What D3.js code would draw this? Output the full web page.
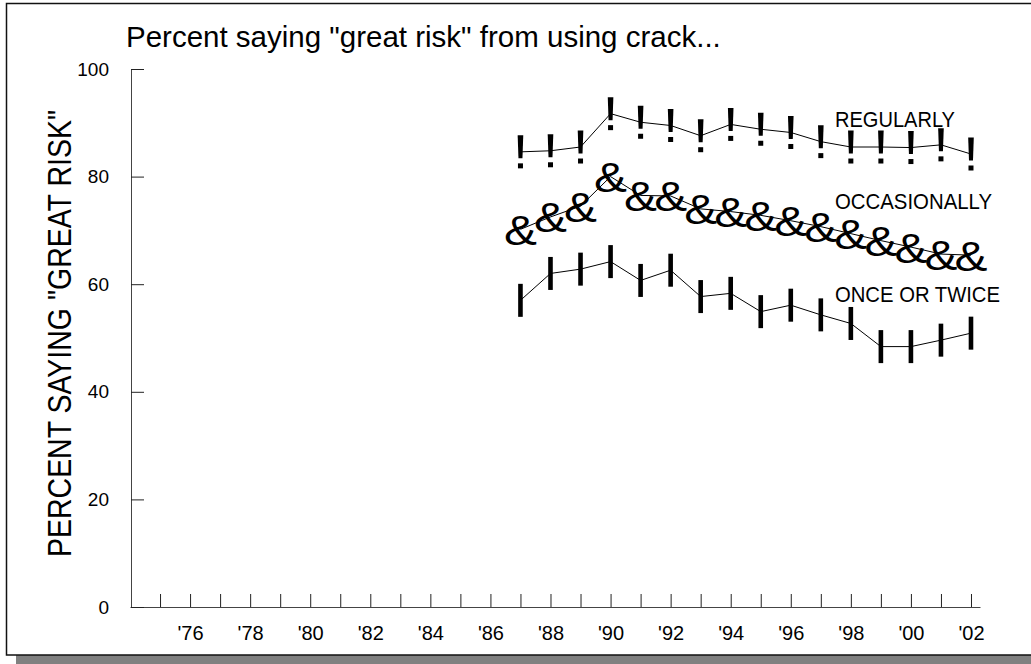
<!DOCTYPE html>
<html>
<head>
<meta charset="utf-8">
<script src="https://cdn.jsdelivr.net/npm/d3@7"></script>
<style>
  body { margin: 0; background: #fff; }
  svg { display: block; font-family: "Liberation Sans", Arial, sans-serif; }
</style>
</head>
<body>
<svg id="chart" width="1031" height="664"></svg>
<script>
// survey years
const years = [1987, 1988, 1989, 1990, 1991, 1992, 1993, 1994, 1995, 1996, 1997, 1998, 1999, 2000, 2001, 2002];

// percent saying "great risk"
const regularly = [84.6, 84.8, 85.5, 91.7, 90.1, 89.5, 87.6, 89.7, 88.8, 88.2, 86.5, 85.5, 85.5, 85.4, 85.9, 84.2];
const occasionally = [70.2, 72.5, 74.5, 80.0, 76.5, 76.4, 74.0, 73.5, 72.8, 71.8, 70.7, 69.4, 68.1, 66.9, 65.6, 65.4];
const onceOrTwice = [57.0, 62.0, 62.8, 64.2, 60.7, 62.6, 57.7, 58.3, 54.9, 56.1, 54.3, 52.7, 48.4, 48.4, 49.6, 50.9];

const seriesNames = ["REGULARLY", "OCCASIONALLY", "ONCE OR TWICE"];
const yTicks = [0, 20, 40, 60, 80, 100];
const xTickYears = d3.range(1975, 2003);

const series = [
  { name: seriesNames[0], values: regularly, marker: "bang" },
  { name: seriesNames[1], values: occasionally, marker: "amp" },
  { name: seriesNames[2], values: onceOrTwice, marker: "bar" }
];

const svg = d3.select("#chart");

// frame + drop shadow
svg.append("rect")
  .attr("x", 16).attr("y", 655).attr("width", 1020).attr("height", 10)
  .attr("fill", "#808080");
svg.append("rect")
  .attr("x", 6.5).attr("y", 3.5).attr("width", 1040).attr("height", 651.5)
  .attr("fill", "#fff").attr("stroke", "#111").attr("stroke-width", 1.5);

const x = d3.scaleLinear().domain([1974, 2002.3]).range([130, 980]);
const y = d3.scaleLinear().domain([0, 100]).range([607, 69]);

// x axis, ticks pointing up, labels only on even years
const gx = svg.append("g")
  .attr("transform", `translate(0,${y(0)})`)
  .call(d3.axisBottom(x)
    .tickValues(xTickYears)
    .tickSizeInner(-13)
    .tickSizeOuter(0)
    .tickPadding(19)
    .tickFormat(d => d % 2 === 0 ? "'" + String(d).slice(2) : ""));
gx.select(".domain").attr("stroke", "#444");
gx.selectAll(".tick line").attr("stroke", "#222");
gx.selectAll("text").attr("font-size", 20).attr("fill", "#000")
  .attr("font-family", "'Liberation Sans', Arial, sans-serif");

// y axis, ticks pointing right
const gy = svg.append("g")
  .attr("transform", `translate(${x(1974) + 1},0)`)
  .call(d3.axisLeft(y)
    .tickValues(yTicks)
    .tickSizeInner(-13)
    .tickSizeOuter(0)
    .tickPadding(22));
gy.select(".domain").attr("stroke", "#444");
gy.selectAll(".tick line").attr("stroke", "#222");
gy.selectAll("text").attr("font-size", 19).attr("fill", "#000")
  .attr("font-family", "'Liberation Sans', Arial, sans-serif");

// title and y label
svg.append("text")
  .attr("x", 126).attr("y", 47)
  .attr("font-size", 29.5)
  .text('Percent saying "great risk" from using crack...');

svg.append("text")
  .attr("transform", `translate(71,${(110 + 557) / 2}) rotate(-90)`)
  .attr("text-anchor", "middle")
  .attr("font-size", 33)
  .attr("textLength", 447)
  .attr("lengthAdjust", "spacingAndGlyphs")
  .text('PERCENT SAYING "GREAT RISK"');

const line = d3.line()
  .x((d, i) => x(years[i]))
  .y(d => y(d));

series.forEach(s => {
  const g = svg.append("g");
  const pts = s.values.map((v, i) => ({ yr: years[i], v }));

  if (s.marker === "bang") {
    // "!" : tapered bar plus dot, centred on the point
    g.selectAll("path.m").data(pts).join("path")
      .attr("class", "m")
      .attr("d", d => {
        const cx = x(d.yr), cy = y(d.v);
        return `M${cx - 2.8},${cy - 16.5} L${cx + 2.8},${cy - 16.5} L${cx + 2},${cy + 6.5} L${cx - 2},${cy + 6.5} Z`;
      })
      .attr("fill", "#000");
    g.selectAll("rect.dot").data(pts).join("rect")
      .attr("class", "dot")
      .attr("x", d => x(d.yr) - 2.5)
      .attr("y", d => y(d.v) + 11.5)
      .attr("width", 5).attr("height", 5)
      .attr("fill", "#000");
  } else if (s.marker === "amp") {
    // "&" glyph, a bit wider than the stock font
    g.selectAll("text.m").data(pts).join("text")
      .attr("class", "m")
      .attr("transform", d => `translate(${x(d.yr)},${y(d.v) + 15.5}) scale(1.15,1)`)
      .attr("text-anchor", "middle")
      .attr("font-size", 43)
      .attr("fill", "#000")
      .text("&");
  } else {
    g.selectAll("rect.m").data(pts).join("rect")
      .attr("class", "m")
      .attr("x", d => x(d.yr) - 2.3)
      .attr("y", d => y(d.v) - 16.5)
      .attr("width", 4.6).attr("height", 33)
      .attr("fill", "#000");
  }

  g.append("path")
    .datum(s.values)
    .attr("d", line)
    .attr("fill", "none")
    .attr("stroke", "#000")
    .attr("stroke-width", 1);
});

// series labels
const labelPos = [127, 209, 302];
const labelWidth = [120, 157, 165];
svg.selectAll("text.slabel").data(seriesNames).join("text")
  .attr("class", "slabel")
  .attr("x", 835)
  .attr("y", (d, i) => labelPos[i])
  .attr("font-size", 22)
  .attr("textLength", (d, i) => labelWidth[i])
  .attr("lengthAdjust", "spacingAndGlyphs")
  .text(d => d);
</script>
</body>
</html>
